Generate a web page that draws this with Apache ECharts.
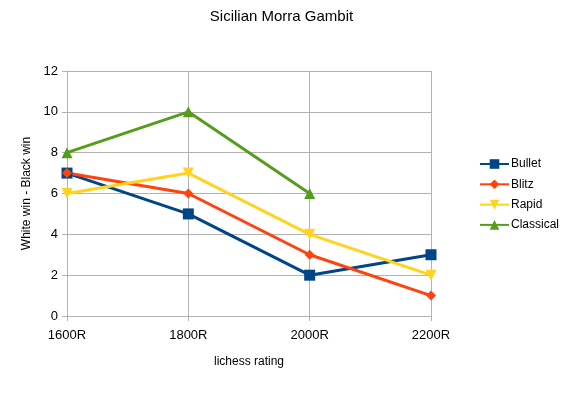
<!DOCTYPE html>
<html><head><meta charset="utf-8">
<script src="https://cdn.jsdelivr.net/npm/echarts@6/dist/echarts.min.js"></script>
<style>html,body{margin:0;padding:0;background:#fff}#c{width:563px;height:393px}</style>
</head><body><div id="c"></div>
<script>
const categories = ['1600R', '1800R', '2000R', '2200R'];
const bullet = [7, 5, 2, 3];
const blitz = [7, 6, 3, 1];
const rapid = [6, 7, 4, 2];
const classical = [8, 10, 6, null];
const yTicks = [0, 2, 4, 6, 8, 10, 12];

const chart = echarts.init(document.getElementById('c'));
const font = 'Liberation Sans, Arial, sans-serif';
function s(name, data, color, symbol, size) {
  return { name, type: 'line', data, symbol, symbolSize: size, connectNulls: false,
    itemStyle: { color }, lineStyle: { color, width: 3 } };
}
chart.setOption({
  animation: false,
  textStyle: { fontFamily: font },
  title: { text: 'Sicilian Morra Gambit', left: 'center', top: 4,
    textStyle: { fontFamily: font, fontSize: 15, fontWeight: 'normal', color: '#000' } },
  grid: { left: 67, right: 132, top: 71, bottom: 77 },
  legend: { orient: 'vertical', left: 474, top: 153, itemGap: 8.3, itemWidth: 29, itemHeight: 12,
    textStyle: { fontFamily: font, fontSize: 12, color: '#000', padding: [0, 0, 0, -3] },
    data: ['Bullet', 'Blitz', 'Rapid', 'Classical'] },
  xAxis: { type: 'category', data: categories, boundaryGap: false,
    name: 'lichess rating', nameLocation: 'middle', nameGap: 40,
    nameTextStyle: { fontFamily: font, fontSize: 12, color: '#000' },
    axisLine: { lineStyle: { color: '#b3b3b3' } },
    axisTick: { show: true, alignWithLabel: true, length: 5, lineStyle: { color: '#b3b3b3' } },
    axisLabel: { fontFamily: font, fontSize: 13, color: '#000', margin: 13 },
    splitLine: { show: true, lineStyle: { color: '#b3b3b3' } } },
  yAxis: { type: 'value', min: yTicks[0], max: yTicks[yTicks.length - 1], interval: 2,
    name: 'White win - Black win', nameLocation: 'middle', nameGap: 34,
    nameTextStyle: { fontFamily: font, fontSize: 12, color: '#000' },
    axisLine: { show: true, lineStyle: { color: '#b3b3b3' } },
    axisTick: { show: true, length: 5, lineStyle: { color: '#b3b3b3' } },
    axisLabel: { fontFamily: font, fontSize: 13, color: '#000', margin: 9 },
    splitLine: { show: true, lineStyle: { color: '#b3b3b3' } } },
  series: [
    s('Bullet', bullet, '#004586', 'rect', 11),
    s('Blitz', blitz, '#ff420e', 'diamond', 10),
    s('Rapid', rapid, '#ffd320', 'path://M0,0 L10,0 L5,9 Z', 11),
    s('Classical', classical, '#579d1c', 'triangle', 11)
  ]
});
</script></body></html>
